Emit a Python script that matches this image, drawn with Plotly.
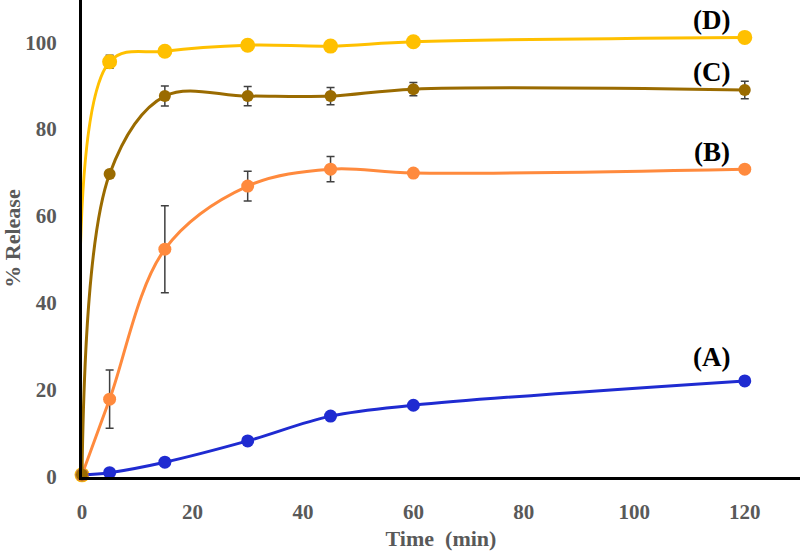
import plotly.graph_objects as go

time_min = [0, 5, 15, 30, 45, 60, 120]

release_A = [0.5, 1.0, 3.4, 8.3, 14.0, 16.5, 22.1]
err_A = [0, 0, 0, 0, 0, 0, 0]

release_B = [0.5, 17.9, 52.4, 66.9, 70.8, 69.9, 70.8]
err_B = [0, 6.7, 10.0, 3.4, 2.9, 0.6, 0.6]

release_C = [0.5, 69.7, 87.6, 87.6, 87.6, 89.2, 89.0]
err_C = [0, 0.6, 2.3, 2.2, 2.0, 1.5, 2.0]

release_D = [0.5, 95.5, 97.9, 99.3, 99.1, 100.1, 101.1]
err_D = [0, 1.5, 0.6, 0.6, 0.5, 0.5, 0.5]

series = [
    ("(D)", release_D, err_D, "#FFC000", 15),
    ("(A)", release_A, err_A, "#1F2BD1", 13),
    ("(B)", release_B, err_B, "#FF8A3D", 13),
    ("(C)", release_C, err_C, "#9A6B00", 12),
]

label_pos = {"(A)": (114, 27.6), "(B)": (114, 74.7), "(C)": (114, 93.2), "(D)": (114, 105.2)}

fig = go.Figure()
for name, vals, errs, color, msize in series:
    fig.add_trace(go.Scatter(
        x=time_min, y=vals, mode="lines+markers", name=name,
        line=dict(color=color, width=3, shape="spline", smoothing=1),
        marker=dict(color=color, size=msize),
        error_y=dict(type="data", array=errs, visible=True, color="#404040", thickness=1.5, width=4),
        cliponaxis=False,
    ))

for name, (lx, ly) in label_pos.items():
    fig.add_annotation(x=lx, y=ly, text="<b>%s</b>" % name, showarrow=False,
                       font=dict(family="Liberation Serif", size=27, color="black"))

fig.update_layout(
    width=800, height=551,
    margin=dict(l=82, r=0, t=0, b=74, autoexpand=False),
    paper_bgcolor="white", plot_bgcolor="white",
    showlegend=False,
    font=dict(family="Liberation Serif", color="#595959"),
)
fig.update_xaxes(
    range=[0, 130], tickvals=[0, 20, 40, 60, 80, 100, 120],
    showgrid=False, zeroline=False, showline=True, linecolor="black", linewidth=3,
    ticks="", ticklabelstandoff=14,
    tickfont=dict(family="Liberation Serif", size=21, color="#595959", weight="bold"),
    title=dict(text="<b>Time  (min)</b>", font=dict(family="Liberation Serif", size=22, color="#595959"), standoff=12),
)
fig.update_yaxes(
    range=[0, 109.7], tickvals=[0, 20, 40, 60, 80, 100],
    showgrid=False, zeroline=False, showline=True, linecolor="black", linewidth=3,
    ticks="", ticklabelstandoff=18,
    tickfont=dict(family="Liberation Serif", size=21, color="#595959", weight="bold"),
    title=dict(text="<b>% Release</b>", font=dict(family="Liberation Serif", size=22, color="#595959"), standoff=12),
)

fig.write_html("out.html", config={"displayModeBar": False},
               post_script="document.body.style.margin='0';")
